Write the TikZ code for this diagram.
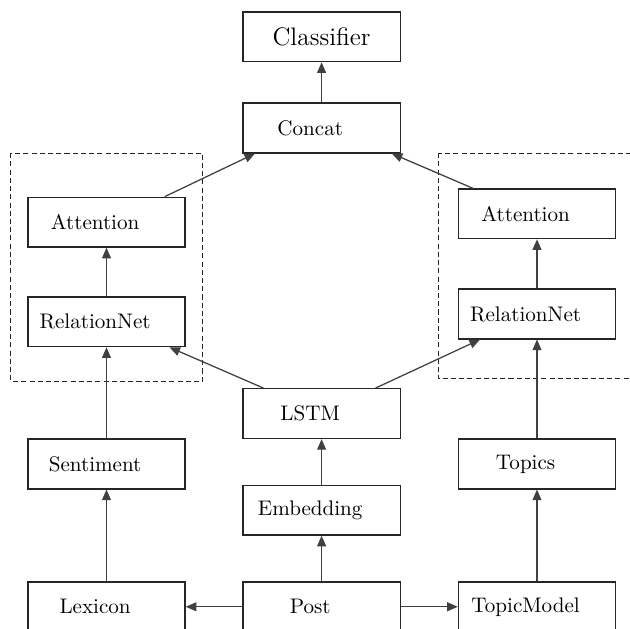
\documentclass[tikz,border=0pt]{standalone}
\usetikzlibrary{arrows.meta}
\tikzset{
        box/.style={draw=black!85, semithick, minimum width=2.62cm, minimum height=0.83cm, inner sep=0pt},
        blok/.style={box, execute at end node={\hspace*{0.38cm}}},
        strelka/.style={semithick, draw=black!75, -{Triangle[length=5pt,width=4.2pt]}},
        ramka/.style={draw=black!85, dash pattern=on 2.4pt off 1.5pt}
}
\begin{document}
\begin{tikzpicture}
                \clip ( 0, 0 ) rectangle ( 10.5, 10.483 );
% пунктирные рамки
                \draw [ramka] ( 0.18, 7.93 ) rectangle ( 3.38, 4.13 );
                \draw [ramka] ( 7.3, 7.93 ) rectangle ( 10.7, 4.17 );
% верх
                \node [box, font=\large] (classifier) at ( 5.36, 9.87 ) {Classifier};
                \node [blok] (concat) at ( 5.36, 8.35 ) {Concat};
% левая ветка
                \node [blok] (attL) at ( 1.775, 6.78 ) {Attention};
                \node [blok] (relL) at ( 1.775, 5.12 ) {RelationNet};
                \node [blok] (sent) at ( 1.775, 2.75 ) {Sentiment};
                \node [blok] (lex) at ( 1.775, 0.37 ) {Lexicon};
% середина
                \node [blok] (lstm) at ( 5.36, 3.59 ) {LSTM};
                \node [blok] (embed) at ( 5.36, 1.98 ) {Embedding};
                \node [blok] (post) at ( 5.36, 0.37 ) {Post};
% правая ветка
                \node [blok] (attR) at ( 8.95, 6.92 ) {Attention};
                \node [blok] (relR) at ( 8.95, 5.25 ) {RelationNet};
                \node [blok] (topics) at ( 8.95, 2.75 ) {Topics};
                \node [blok] (tmodel) at ( 8.95, 0.37 ) {TopicModel};
% стрелки
                \draw [strelka] (concat) -- (classifier);
                \draw [strelka] ([xshift=0.97cm]attL.north) -- ([xshift=-1.11cm]concat.south);
                \draw [strelka] ([xshift=-1.07cm]attR.north) -- ([xshift=1.17cm]concat.south);
                \draw [strelka] (relL) -- (attL);
                \draw [strelka] (relR) -- (attR);
                \draw [strelka] ([xshift=-0.97cm]lstm.north) -- ([xshift=1.05cm]relL.south);
                \draw [strelka] ([xshift=0.9cm]lstm.north) -- ([xshift=-0.95cm]relR.south);
                \draw [strelka] (sent) -- (relL);
                \draw [strelka] (topics) -- (relR);
                \draw [strelka] (embed) -- (lstm);
                \draw [strelka] (post) -- (embed);
                \draw [strelka] (lex) -- (sent);
                \draw [strelka] (tmodel) -- (topics);
                \draw [strelka] (post) -- (lex);
                \draw [strelka] (post) -- (tmodel);
\end{tikzpicture}
\end{document}
